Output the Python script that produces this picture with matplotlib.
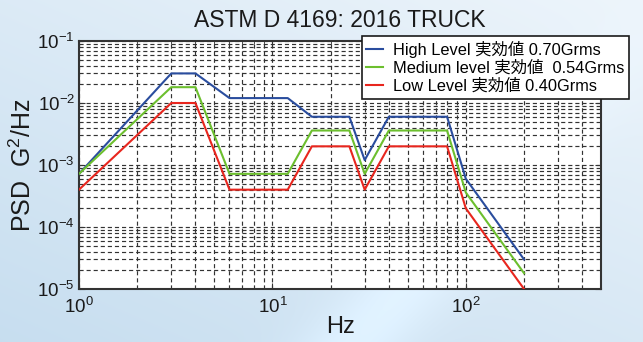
import numpy as np
import matplotlib
matplotlib.use("Agg")
import matplotlib.pyplot as plt
from matplotlib.ticker import LogLocator, LogFormatterMathtext, NullFormatter

plt.rcParams['font.family'] = ['Liberation Sans', 'Noto Sans CJK JP', 'DejaVu Sans']
plt.rcParams['mathtext.fontset'] = 'custom'
plt.rcParams['mathtext.rm'] = 'Liberation Sans'

freq = [1, 3, 4, 6, 12, 16, 25, 30, 40, 80, 100, 200]
high = [7.2e-4, 0.03, 0.03, 0.012, 0.012, 0.006, 0.006, 0.0012, 0.006, 0.006, 6e-4, 3e-5]
medium = [7.2e-4, 0.018, 0.018, 7.2e-4, 7.2e-4, 0.0036, 0.0036, 7.2e-4, 0.0036, 0.0036, 3.6e-4, 1.8e-5]
low = [4e-4, 0.01, 0.01, 4e-4, 4e-4, 0.002, 0.002, 4e-4, 0.002, 0.002, 2e-4, 1e-5]
labels = ["High Level 実効値 0.70Grms", "Medium level 実効値  0.54Grms", "Low Level 実効値 0.40Grms"]
colors = ["#2a4d9e", "#6cbf2e", "#e8261e"]

fig = plt.figure(figsize=(6.43, 3.42), dpi=100)

# background gradient
bg = fig.add_axes([0, 0, 1, 1], zorder=-10)
h, w = 342, 643
yy, xx = np.mgrid[0:h, 0:w]
t = np.clip(0.55 * (yy / h) + 0.45 * (1 - xx / w), 0, 1)
c1 = np.array([0.93, 0.96, 0.985])
c2 = np.array([0.78, 0.87, 0.94])
img = c1[None, None, :] * (1 - t[..., None]) + c2[None, None, :] * t[..., None]
streak = np.exp(-((xx - 0.55 * w) + 0.9 * (yy - h)) ** 2 / (2 * 40 ** 2)) * (yy / h)
img = np.clip(img + 0.06 * streak[..., None], 0, 1)
bg.imshow(img, aspect='auto', extent=[0, 1, 0, 1])
bg.axis('off')

ax = fig.add_axes([79 / 643, 1 - 289 / 342, (601 - 79) / 643, (289 - 41) / 342])
ax.set_facecolor('white')
for y, c, lab in zip([high, medium, low], colors, labels):
    ax.plot(freq, y, color=c, lw=1.5, label=lab, zorder=3)

ax.set_xscale('log')
ax.set_yscale('log')
ax.set_xlim(1, 500)
ax.set_ylim(1e-5, 1e-1)
ax.xaxis.set_major_locator(LogLocator(base=10, numticks=10))
ax.yaxis.set_major_locator(LogLocator(base=10, numticks=10))
ax.xaxis.set_minor_locator(LogLocator(base=10, subs=np.arange(2, 10), numticks=20))
ax.yaxis.set_minor_locator(LogLocator(base=10, subs=np.arange(2, 10), numticks=20))
ax.xaxis.set_major_formatter(LogFormatterMathtext())
ax.yaxis.set_major_formatter(LogFormatterMathtext())
ax.xaxis.set_minor_formatter(NullFormatter())
ax.yaxis.set_minor_formatter(NullFormatter())

ax.grid(True, which='both', linestyle=(0, (3.5, 2.5)), color='#333333', linewidth=0.85)
ax.tick_params(which='both', direction='in', top=True, right=True, colors='#333333',
               labelcolor='#1a1a1a', labelsize=13.5)
ax.tick_params(which='major', length=4)
ax.tick_params(which='minor', length=2)
ax.tick_params(axis='x', pad=6)
ax.tick_params(axis='y', pad=3)
for s in ax.spines.values():
    s.set_color('#333333')
    s.set_linewidth(1.5)

ax.set_title("ASTM D 4169: 2016 TRUCK", fontsize=16.5, color='#1a1a1a', pad=10)
ax.set_xlabel("Hz", fontsize=17, color='#1a1a1a', labelpad=-1)
ax.set_ylabel(r"PSD  G$^2$/Hz", fontsize=18, color='#1a1a1a', labelpad=1)

leg = fig.legend(loc='upper right', bbox_to_anchor=(629 / 643, 1 - 36 / 342),
                 fontsize=11.8, frameon=True, fancybox=False, framealpha=1,
                 edgecolor='#1a1a1a', handlelength=1.0, handletextpad=0.6,
                 borderpad=0.3, labelspacing=0.15, borderaxespad=0)
leg.get_frame().set_linewidth(1.2)
leg.set_zorder(10)

fig.savefig("out.png", dpi=100)
